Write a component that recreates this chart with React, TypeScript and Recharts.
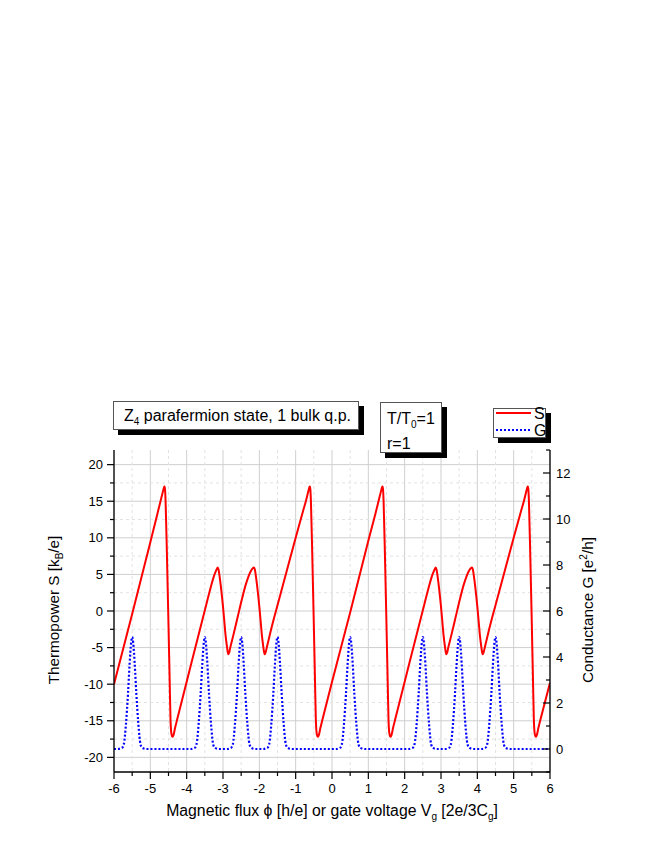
import { CartesianGrid, Line, LineChart, XAxis, YAxis } from "recharts";

// thermopower S (red)
const sFlux = [
  -6.0, -5.5, -5.0, -4.8, -4.72, -4.67, -4.64, -4.62, -4.608, -4.595, -4.58, -4.54, -4.504, -4.47, -4.445, -4.425, -4.4, -4.385, -4.36, -4.32, -4.25, -3.91,
  -3.5, -3.35, -3.26, -3.2, -3.16, -3.144, -3.125, -3.09, -3.053, -3.0, -2.962, -2.93, -2.896, -2.87, -2.852, -2.83, -2.8,
  -2.72, -2.6, -2.48, -2.38, -2.3, -2.24, -2.19, -2.144, -2.125, -2.09, -2.053, -2.0, -1.962, -1.93, -1.896, -1.87, -1.852, -1.83, -1.79,
  -1.7, -1.5, -1.0, -0.8, -0.72, -0.67, -0.64, -0.62, -0.608, -0.595, -0.58, -0.54, -0.504, -0.47, -0.445, -0.425, -0.4, -0.385, -0.36, -0.32, -0.25,
  0.0, 0.5, 1.0, 1.2, 1.28, 1.33, 1.36, 1.38, 1.392, 1.405, 1.42, 1.46, 1.496, 1.53, 1.555, 1.575, 1.6, 1.615, 1.64, 1.68, 1.75, 2.09,
  2.5, 2.65, 2.74, 2.8, 2.84, 2.856, 2.875, 2.91, 2.947, 3.0, 3.038, 3.07, 3.104, 3.13, 3.148, 3.17, 3.2,
  3.28, 3.4, 3.52, 3.62, 3.7, 3.76, 3.81, 3.856, 3.875, 3.91, 3.947, 4.0, 4.038, 4.07, 4.104, 4.13, 4.148, 4.17, 4.21,
  4.3, 4.5, 5.0, 5.2, 5.28, 5.33, 5.36, 5.38, 5.392, 5.405, 5.42, 5.46, 5.496, 5.53, 5.555, 5.575, 5.6, 5.615, 5.64, 5.68, 5.75,
  6.0,
];
const sPower = [
  -10.0, -0.4, 9.4, 13.4, 15.0, 16.0, 16.6, 16.95, 17.0, 16.6, 15.0, 7.0, -1.0, -9.0, -14.8, -16.6, -17.15, -17.2, -16.9, -16.0, -14.6, -7.9,
  0.1, 3.0, 4.6, 5.4, 5.85, 5.95, 5.7, 4.6, 3.1, 0.6, -1.5, -3.3, -4.7, -5.6, -5.9, -5.7, -5.0,
  -3.4, -0.9, 1.6, 3.5, 4.7, 5.4, 5.8, 5.95, 5.7, 4.6, 3.1, 0.6, -1.5, -3.3, -4.7, -5.6, -5.9, -5.7, -4.9,
  -3.0, 0.8, 10.0, 13.6, 15.0, 16.0, 16.6, 16.95, 17.0, 16.6, 15.0, 7.0, -1.0, -9.0, -14.8, -16.6, -17.15, -17.2, -16.9, -16.0, -14.6,
  -9.7, -0.2, 9.6, 13.4, 15.0, 16.0, 16.6, 16.95, 17.0, 16.6, 15.0, 7.0, -1.0, -9.0, -14.8, -16.6, -17.15, -17.2, -16.9, -16.0, -14.6, -7.9,
  0.1, 3.0, 4.6, 5.4, 5.85, 5.95, 5.7, 4.6, 3.1, 0.6, -1.5, -3.3, -4.7, -5.6, -5.9, -5.7, -5.0,
  -3.4, -0.9, 1.6, 3.5, 4.7, 5.4, 5.8, 5.95, 5.7, 4.6, 3.1, 0.6, -1.5, -3.3, -4.7, -5.6, -5.9, -5.7, -4.9,
  -3.0, 0.8, 10.0, 13.6, 15.0, 16.0, 16.6, 16.95, 17.0, 16.6, 15.0, 7.0, -1.0, -9.0, -14.8, -16.6, -17.15, -17.2, -16.9, -16.0, -14.6,
  -9.8,
];

// conductance G (blue dots), one row per peak
const gFlux = [
  -6.0,
  -5.9, -5.78, -5.73, -5.7, -5.67, -5.615, -5.57, -5.53, -5.5, -5.47, -5.43, -5.385, -5.33, -5.3, -5.27, -5.22, -5.1,
  -3.9, -3.78, -3.73, -3.7, -3.67, -3.615, -3.57, -3.53, -3.5, -3.47, -3.43, -3.385, -3.33, -3.3, -3.27, -3.22, -3.1,
  -2.9, -2.78, -2.73, -2.7, -2.67, -2.615, -2.57, -2.53, -2.5, -2.47, -2.43, -2.385, -2.33, -2.3, -2.27, -2.22, -2.1,
  -1.9, -1.78, -1.73, -1.7, -1.67, -1.615, -1.57, -1.53, -1.5, -1.47, -1.43, -1.385, -1.33, -1.3, -1.27, -1.22, -1.1,
  0.1, 0.22, 0.27, 0.3, 0.33, 0.385, 0.43, 0.47, 0.5, 0.53, 0.57, 0.615, 0.67, 0.7, 0.73, 0.78, 0.9,
  2.1, 2.22, 2.27, 2.3, 2.33, 2.385, 2.43, 2.47, 2.5, 2.53, 2.57, 2.615, 2.67, 2.7, 2.73, 2.78, 2.9,
  3.1, 3.22, 3.27, 3.3, 3.33, 3.385, 3.43, 3.47, 3.5, 3.53, 3.57, 3.615, 3.67, 3.7, 3.73, 3.78, 3.9,
  4.1, 4.22, 4.27, 4.3, 4.33, 4.385, 4.43, 4.47, 4.5, 4.53, 4.57, 4.615, 4.67, 4.7, 4.73, 4.78, 4.9,
  6.0,
];
const gConductance = [
  0,
  0, 0.05, 0.2, 0.55, 1.1, 2.4, 3.7, 4.6, 4.87, 4.6, 3.7, 2.4, 1.1, 0.55, 0.2, 0.05, 0,
  0, 0.05, 0.2, 0.55, 1.1, 2.4, 3.7, 4.6, 4.87, 4.6, 3.7, 2.4, 1.1, 0.55, 0.2, 0.05, 0,
  0, 0.05, 0.2, 0.55, 1.1, 2.4, 3.7, 4.6, 4.87, 4.6, 3.7, 2.4, 1.1, 0.55, 0.2, 0.05, 0,
  0, 0.05, 0.2, 0.55, 1.1, 2.4, 3.7, 4.6, 4.87, 4.6, 3.7, 2.4, 1.1, 0.55, 0.2, 0.05, 0,
  0, 0.05, 0.2, 0.55, 1.1, 2.4, 3.7, 4.6, 4.87, 4.6, 3.7, 2.4, 1.1, 0.55, 0.2, 0.05, 0,
  0, 0.05, 0.2, 0.55, 1.1, 2.4, 3.7, 4.6, 4.87, 4.6, 3.7, 2.4, 1.1, 0.55, 0.2, 0.05, 0,
  0, 0.05, 0.2, 0.55, 1.1, 2.4, 3.7, 4.6, 4.87, 4.6, 3.7, 2.4, 1.1, 0.55, 0.2, 0.05, 0,
  0, 0.05, 0.2, 0.55, 1.1, 2.4, 3.7, 4.6, 4.87, 4.6, 3.7, 2.4, 1.1, 0.55, 0.2, 0.05, 0,
  0,
];

const xMajor = [-6, -5, -4, -3, -2, -1, 0, 1, 2, 3, 4, 5, 6];
const xMinor = [-5.5, -4.5, -3.5, -2.5, -1.5, -0.5, 0.5, 1.5, 2.5, 3.5, 4.5, 5.5];
const sMajor = [-20, -15, -10, -5, 0, 5, 10, 15, 20];
const sMinor = [-17.5, -12.5, -7.5, -2.5, 2.5, 7.5, 12.5, 17.5];
const gMajor = [0, 2, 4, 6, 8, 10, 12];
const gMinor = [-1, 1, 3, 5, 7, 9, 11, 13];

const sData = sFlux.map((x, i) => ({ x, s: sPower[i] }));
const gData = gFlux.map((x, i) => ({ x, g: gConductance[i] }));

const FONT = "'Liberation Sans', Arial, sans-serif";

const XTick = ({ x, y, payload }: any) => {
  const major = xMajor.includes(payload.value);
  return (
    <g>
      <line x1={x} y1={y} x2={x} y2={y + (major ? 7 : 4)} stroke="#000" strokeWidth={1.2} />
      {major && (
        <text x={x} y={y + 21} textAnchor="middle" fontSize={13} fontFamily={FONT} fill="#000">
          {payload.value}
        </text>
      )}
    </g>
  );
};

const LeftTick = ({ x, y, payload }: any) => {
  const major = sMajor.includes(payload.value);
  return (
    <g>
      <line x1={x - (major ? 7 : 4)} y1={y} x2={x} y2={y} stroke="#000" strokeWidth={1.2} />
      {major && (
        <text x={x - 11} y={y + 4.6} textAnchor="end" fontSize={13} fontFamily={FONT} fill="#000">
          {payload.value}
        </text>
      )}
    </g>
  );
};

const RightTick = ({ x, y, payload }: any) => {
  const major = gMajor.includes(payload.value);
  return (
    <g>
      <line x1={x - (major ? 7 : 4)} y1={y} x2={x} y2={y} stroke="#000" strokeWidth={1.2} />
      {major && (
        <text x={x + 6} y={y + 4.6} textAnchor="start" fontSize={13} fontFamily={FONT} fill="#000">
          {payload.value}
        </text>
      )}
    </g>
  );
};

const boxStyle = {
  position: "absolute" as const,
  background: "#fff",
  border: "1px solid #555",
  boxShadow: "5px 5px 0 #000",
  boxSizing: "border-box" as const,
  fontFamily: FONT,
  fontSize: 16,
  color: "#000",
  lineHeight: 1,
};

const sub = { fontSize: 10, verticalAlign: -4 };

const App = () => {
  return (
    <div style={{ position: "relative", width: 646, height: 838 }}>
      <LineChart width={646} height={838} margin={{ top: 442, right: 44, bottom: 34, left: 46 }}>
        <CartesianGrid
          yAxisId="left"
          stroke="#cfcfcf"
          horizontalValues={sMajor}
          verticalValues={xMajor}
        />
        <CartesianGrid
          yAxisId="left"
          stroke="#e2e2e2"
          strokeDasharray="3 3"
          horizontalValues={sMinor}
          verticalValues={xMinor}
        />
        <XAxis
          type="number"
          dataKey="x"
          domain={[-6, 6]}
          ticks={[...xMajor, ...xMinor].sort((a, b) => a - b)}
          interval={0}
          height={40}
          tickSize={0}
          tickMargin={0}
          tickLine={false}
          tick={<XTick />}
          axisLine={{ stroke: "#000", strokeWidth: 1.3 }}
          allowDataOverflow
        />
        <YAxis
          yAxisId="left"
          type="number"
          domain={[-22, 22]}
          ticks={[...sMajor, ...sMinor].sort((a, b) => a - b)}
          interval={0}
          width={60}
          tickSize={0}
          tickMargin={0}
          tickLine={false}
          tick={<LeftTick />}
          axisLine={{ stroke: "#000", strokeWidth: 1.3 }}
          allowDataOverflow
        />
        <YAxis
          yAxisId="right"
          orientation="right"
          type="number"
          domain={[-1, 13]}
          ticks={[...gMajor, ...gMinor].sort((a, b) => a - b)}
          interval={0}
          width={60}
          tickSize={0}
          tickMargin={0}
          tickLine={false}
          tick={<RightTick />}
          axisLine={{ stroke: "#000", strokeWidth: 1.3 }}
          allowDataOverflow
        />
        <Line
          yAxisId="right"
          data={gData}
          dataKey="g"
          type="monotone"
          stroke="#0000ff"
          strokeWidth={2.2}
          strokeDasharray="2 2"
          dot={false}
          activeDot={false}
          isAnimationActive={false}
        />
        <Line
          yAxisId="left"
          data={sData}
          dataKey="s"
          type="monotone"
          stroke="#ff0000"
          strokeWidth={2}
          dot={false}
          activeDot={false}
          isAnimationActive={false}
        />
      </LineChart>

      {/* axis titles */}
      <div
        style={{
          position: "absolute",
          left: 47,
          top: 602,
          transform: "translate(-50%, -50%) rotate(-90deg)",
          whiteSpace: "nowrap",
          fontFamily: FONT,
          fontSize: 15.3,
          lineHeight: 1,
        }}
      >
        Thermopower S [k<span style={sub}>B</span>/e]
      </div>
      <div
        style={{
          position: "absolute",
          left: 579,
          top: 602,
          transform: "translate(-50%, -50%) rotate(-90deg)",
          whiteSpace: "nowrap",
          fontFamily: FONT,
          fontSize: 15.3,
          lineHeight: 1,
        }}
      >
        Conductance G [e<span style={{ fontSize: 10, verticalAlign: 6 }}>2</span>/h]
      </div>
      <div
        style={{
          position: "absolute",
          left: 324,
          top: 804,
          transform: "translate(-50%, -50%)",
          whiteSpace: "nowrap",
          fontFamily: FONT,
          fontSize: 15.8,
          lineHeight: 1,
        }}
      >
        Magnetic flux ϕ [h/e] or gate voltage V<span style={sub}>g</span> [2e/3C
        <span style={sub}>g</span>]
      </div>

      {/* annotation boxes */}
      <div style={{ ...boxStyle, left: 105, top: 393, width: 246, height: 29, paddingLeft: 10, paddingTop: 6 }}>
        Z<span style={sub}>4</span> parafermion state, 1 bulk q.p.
      </div>
      <div style={{ ...boxStyle, left: 372, top: 394, width: 62, height: 51, paddingLeft: 6, paddingTop: 8 }}>
        <div>
          T/T<span style={sub}>0</span>=1
        </div>
        <div style={{ marginTop: 6 }}>r=1</div>
      </div>
      <div style={{ ...boxStyle, left: 485, top: 400, width: 53, height: 30 }}>
        <svg width={53} height={30} style={{ position: "absolute", left: 0, top: 0, overflow: "visible" }}>
          <line x1={2} y1={4} x2={37} y2={4} stroke="#ff0000" strokeWidth={2} />
          <line x1={2} y1={21} x2={37} y2={21} stroke="#0000ff" strokeWidth={2.2} strokeDasharray="2 2" />
          <text x={40} y={10} fontSize={16} fontFamily={FONT} fill="#000">
            S
          </text>
          <text x={40} y={27} fontSize={16} fontFamily={FONT} fill="#000">
            G
          </text>
        </svg>
      </div>
    </div>
  );
};

export default App;
